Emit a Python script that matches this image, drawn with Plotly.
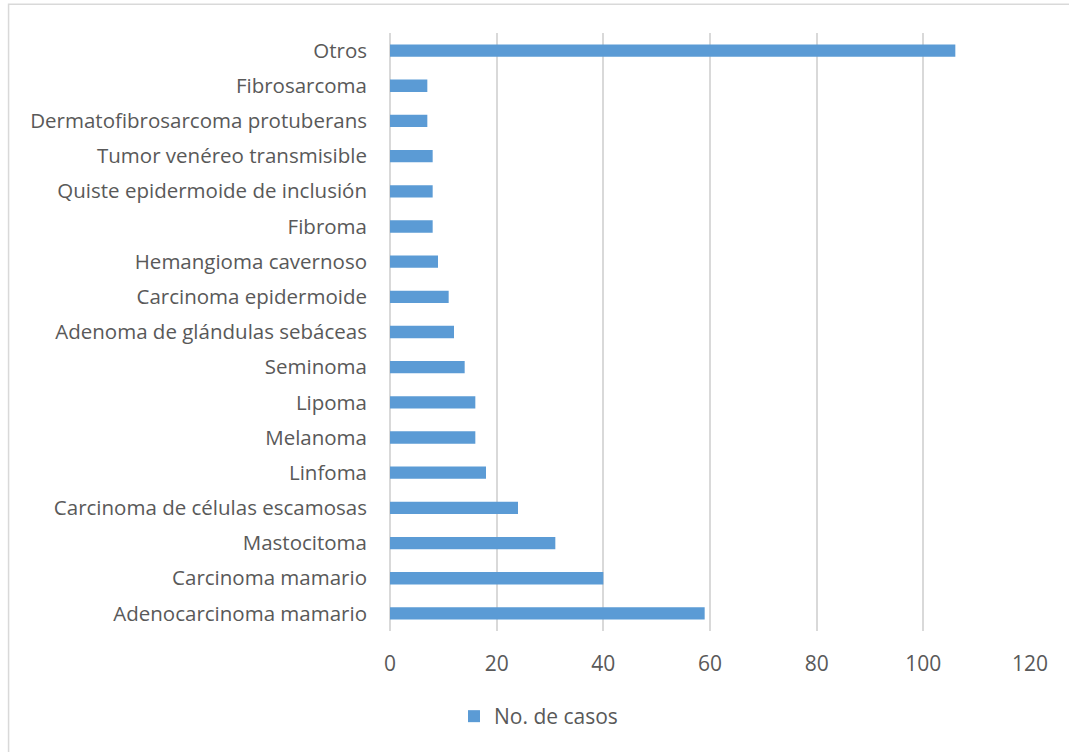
import plotly.graph_objects as go

# Tumor types (bottom to top) and number of cases
categories = [
    "Adenocarcinoma mamario",
    "Carcinoma mamario",
    "Mastocitoma",
    "Carcinoma de células escamosas",
    "Linfoma",
    "Melanoma",
    "Lipoma",
    "Seminoma",
    "Adenoma de glándulas sebáceas",
    "Carcinoma epidermoide",
    "Hemangioma cavernoso",
    "Fibroma",
    "Quiste epidermoide de inclusión",
    "Tumor venéreo transmisible",
    "Dermatofibrosarcoma protuberans",
    "Fibrosarcoma",
    "Otros",
]
casos = [59, 40, 31, 24, 18, 16, 16, 14, 12, 11, 9, 8, 8, 8, 7, 7, 106]
x_ticks = [0, 20, 40, 60, 80, 100, 120]

FONT = "Open Sans"
GRAY_TEXT = "#595959"
GRID = "#d9d9d9"
BLUE = "#5b9bd5"

fig = go.Figure(
    go.Bar(
        x=casos,
        y=categories,
        orientation="h",
        name="No. de casos",
        marker=dict(color=BLUE, line=dict(width=0)),
        showlegend=True,
    )
)

fig.update_layout(
    width=1069,
    height=752,
    margin=dict(l=390, r=39, t=33, b=121, autoexpand=False),
    paper_bgcolor="white",
    plot_bgcolor="white",
    bargap=0.65,
    font=dict(family=FONT, size=20.5, color=GRAY_TEXT),
    legend=dict(
        orientation="h",
        x=0.232,
        xanchor="center",
        y=-0.143,
        yanchor="middle",
        font=dict(family=FONT, size=21, color=GRAY_TEXT),
        itemsizing="constant",
        itemwidth=30,
    ),
    xaxis=dict(
        range=[0, 120],
        tickvals=x_ticks,
        showgrid=True,
        gridcolor=GRID,
        gridwidth=1.5,
        zeroline=True,
        zerolinecolor=GRID,
        zerolinewidth=1.5,
        showline=False,
        ticks="",
        ticklabelstandoff=18,
        tickfont=dict(family=FONT, size=21, color=GRAY_TEXT),
        fixedrange=True,
    ),
    yaxis=dict(
        categoryorder="array",
        categoryarray=categories,
        showgrid=False,
        showline=False,
        ticks="",
        ticklabelstandoff=22,
        tickfont=dict(family=FONT, size=20.5, color=GRAY_TEXT),
        fixedrange=True,
    ),
    shapes=[
        dict(
            type="rect",
            xref="paper",
            yref="paper",
            x0=-0.596,
            x1=1.08,
            y0=-0.22,
            y1=1.048,
            line=dict(color=GRID, width=1.5),
            fillcolor="rgba(0,0,0,0)",
            layer="below",
        )
    ],
)

fig.write_html("out.html")
